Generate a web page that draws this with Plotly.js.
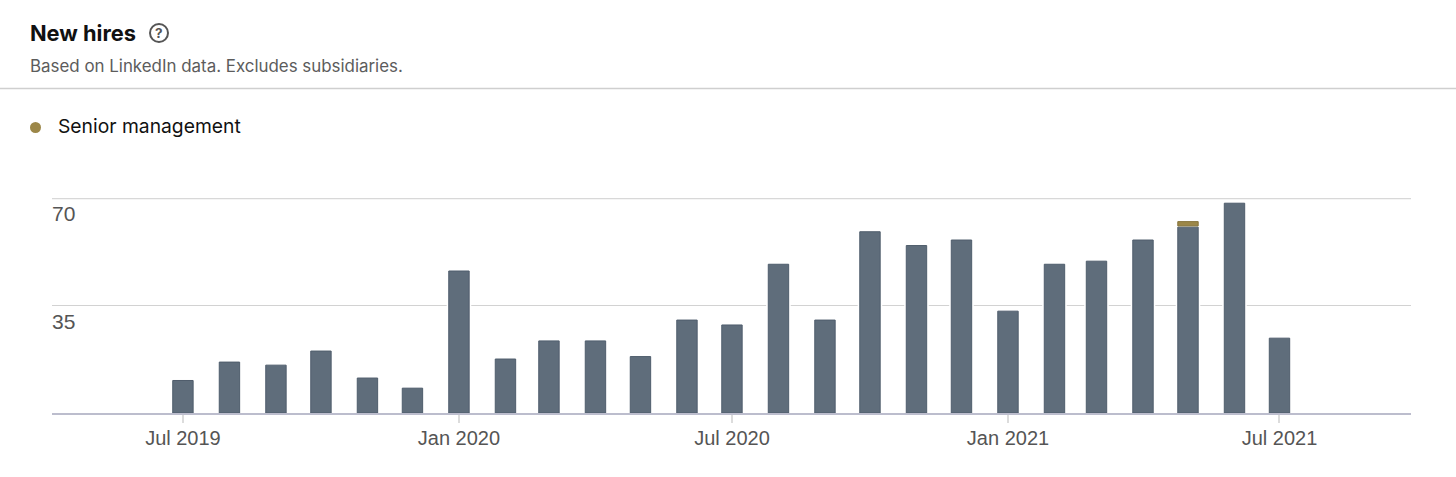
<!DOCTYPE html>
<html>
<head>
<meta charset="utf-8">
<script src="https://cdn.plot.ly/plotly-3.0.1.min.js"></script>
<style>html,body{margin:0;padding:0;background:#fff;overflow:hidden}#chart{width:1456px;height:477px}</style>
</head>
<body>
<div id="chart"></div>
<script>
const months = ["2019-07-01","2019-08-01","2019-09-01","2019-10-01","2019-11-01","2019-12-01","2020-01-01","2020-02-01","2020-03-01","2020-04-01","2020-05-01","2020-06-01","2020-07-01","2020-08-01","2020-09-01","2020-10-01","2020-11-01","2020-12-01","2021-01-01","2021-02-01","2021-03-01","2021-04-01","2021-05-01","2021-06-01","2021-07-01"];
const otherHires = [10.6,16.6,15.6,20.2,11.4,8.1,46.3,17.6,23.5,23.5,18.4,30.3,28.7,48.5,30.3,59.1,54.6,56.4,33.2,48.5,49.5,56.4,60.6,68.4,24.4];
const seniorMonths = ["2021-05-01"];
const seniorHires = [1.4];
const seniorBase = [61];
const yTicks = [35, 70];
const xTicks = ["2019-07-01","2020-01-01","2020-07-01","2021-01-01","2021-07-01"];
const xTickText = ["Jul 2019","Jan 2020","Jul 2020","Jan 2021","Jul 2021"];

const W = 1456, H = 477, L = 52, R = 45, T = 198, B = 64;
const px = x => (x - L) / (W - L - R);
const py = y => 1 - (y - T) / (H - T - B);
const DAY = 86400000;
const UI = "Inter, 'Noto Sans', sans-serif";
const AX = "'Liberation Sans', Arial, sans-serif";

const label = (x, y, text, size, color, family, extra) => Object.assign({
  xref: "paper", yref: "paper", x: px(x), y: py(y), text, showarrow: false,
  xanchor: "left", yanchor: "middle", align: "left", borderpad: 0,
  font: {size, color, family}
}, extra || {});

const traces = [
  {type: "bar", x: months, y: otherHires, width: 16.4 * DAY, marker: {color: "#ffffff"}, hoverinfo: "skip", showlegend: false},
  {type: "bar", name: "Other", x: months, y: otherHires, width: 13.6 * DAY, marker: {color: "#5f6d7b", line: {color: "#4f5d6c", width: 1}}, showlegend: false},
  {type: "bar", name: "Senior management", x: seniorMonths, y: seniorHires, base: seniorBase, width: 13.6 * DAY, marker: {color: "#9c8748", line: {color: "#86733a", width: 1}}, showlegend: false}
];

const layout = {
  width: W, height: H, autosize: false,
  margin: {l: L, r: R, t: T, b: B, pad: 0},
  paper_bgcolor: "#ffffff", plot_bgcolor: "#ffffff",
  barmode: "overlay", showlegend: false,
  xaxis: {
    type: "date", range: ["2019-04-04 17:00", "2021-09-26 16:00"],
    tickmode: "array", tickvals: xTicks, ticktext: xTickText,
    ticks: "outside", ticklen: 8, tickwidth: 2, tickcolor: "#dcdcdc", ticklabelstandoff: -2,
    showgrid: false, zeroline: false, showline: true, linecolor: "#bcbdcd", linewidth: 2,
    tickfont: {family: AX, size: 20, color: "#555555"}
  },
  yaxis: {
    range: [0, 70.1], tickmode: "array", tickvals: yTicks, showticklabels: false, ticks: "",
    showgrid: true, gridcolor: "#d2d2d2", gridwidth: 1.3, zeroline: false, showline: false
  },
  annotations: [
    label(29, 33, "<b>New hires</b>", 21.8, "#111111", UI),
    label(29, 66, "Based on LinkedIn data. Excludes subsidiaries.", 16.9, "#5c5c5c", UI),
    label(57, 126.5, "Senior management", 19.3, "#111111", UI),
    label(159, 33, "<b>?</b>", 13.5, "#555555", UI, {xanchor: "center"}),
    {xref: "paper", yref: "y", x: px(49.5), y: yTicks[1], yshift: -15, text: String(yTicks[1]), showarrow: false, xanchor: "left", yanchor: "middle", font: {family: AX, size: 21, color: "#555555"}},
    {xref: "paper", yref: "y", x: px(49.5), y: yTicks[0], yshift: -16, text: String(yTicks[0]), showarrow: false, xanchor: "left", yanchor: "middle", font: {family: AX, size: 21, color: "#555555"}}
  ],
  shapes: [
    {type: "line", xref: "paper", yref: "paper", x0: px(0), x1: px(W), y0: py(88.5), y1: py(88.5), line: {color: "#cfcfcf", width: 1.3}},
    {type: "line", xref: "paper", yref: "y", x0: 0, x1: 1, y0: yTicks[1], y1: yTicks[1], layer: "below", line: {color: "#d8d8d8", width: 2}},
    {type: "circle", xref: "paper", yref: "paper", x0: px(150), x1: px(168), y0: py(24), y1: py(42), line: {color: "#555555", width: 2}, fillcolor: "rgba(0,0,0,0)"},
    {type: "circle", xref: "paper", yref: "paper", x0: px(30), x1: px(41), y0: py(122), y1: py(133), line: {width: 0}, fillcolor: "#9c8748"}
  ]
};

Plotly.newPlot("chart", traces, layout, {displayModeBar: false, staticPlot: true});
</script>
</body>
</html>
